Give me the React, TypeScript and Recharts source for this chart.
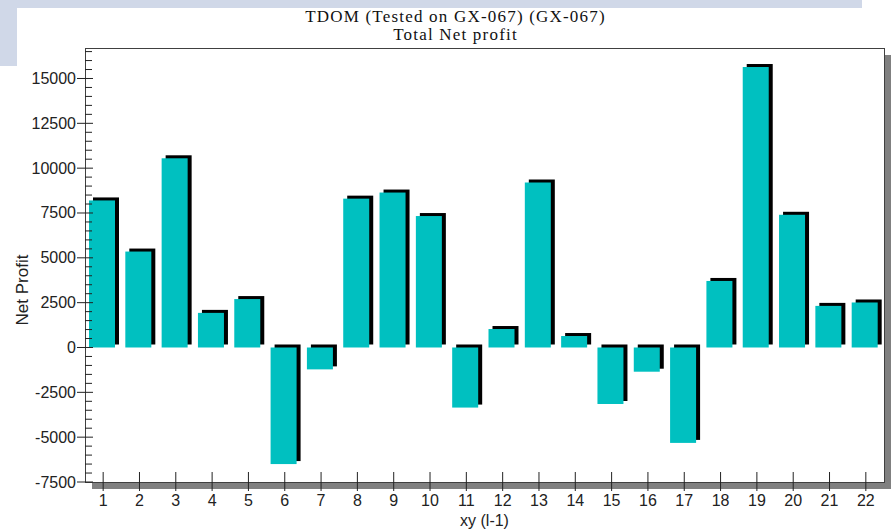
import React from "react";
import { BarChart, Bar, XAxis, YAxis } from "recharts";

const categories = ["1", "2", "3", "4", "5", "6", "7", "8", "9", "10", "11", "12", "13", "14", "15", "16", "17", "18", "19", "20", "21", "22"];
const netProfit = [8200, 5350, 10550, 1930, 2700, -6500, -1220, 8300, 8640, 7330, -3350, 1030, 9200, 640, -3150, -1350, -5320, 3710, 15640, 7400, 2320, 2510];
const majorTicks = [-7500, -5000, -2500, 0, 2500, 5000, 7500, 10000, 12500, 15000];
const minorStep = 500;

const data = categories.map((name, i) => ({ name, value: netProfit[i] }));

const yTicks: number[] = [];
for (let v = -7500; v <= 16500; v += minorStep) yTicks.push(v);

const W = 891;
const H = 530;
const PLOT = { left: 85, top: 48, right: 884, bottom: 482 };
const TEAL = "#00c0c0";
const INK = "#222";
const SANS = "'Liberation Sans', Arial, sans-serif";
const SERIF = "'Liberation Serif', 'Times New Roman', serif";

function ShadowBar(props: any) {
  const { x, y, width, height } = props;
  const top = Math.min(y, y + height);
  const h = Math.abs(height);
  return (
    <g>
      <rect x={x + 3} y={top - 3} width={width} height={h} fill="#000" />
      <rect x={x - 1} y={top} width={width} height={h} fill={TEAL} />
    </g>
  );
}

function YTick(props: any) {
  const { x, y, payload } = props;
  const major = majorTicks.includes(payload.value);
  return (
    <g>
      {major ? (
        <>
          <line x1={x - 8} x2={x + 8} y1={y} y2={y} stroke={INK} strokeWidth={1} />
          <text x={x - 9} y={y} dy={5.5} textAnchor="end" fontSize={16} fill={INK} fontFamily={SANS}>
            {payload.value}
          </text>
        </>
      ) : (
        <line x1={x} x2={x + 7} y1={y} y2={y} stroke={INK} strokeWidth={1} />
      )}
    </g>
  );
}

function XTick(props: any) {
  const { x, y, payload } = props;
  return (
    <g>
      <line x1={x} x2={x} y1={y - 10} y2={y + 9} stroke={INK} strokeWidth={1} />
      <text x={x} y={y + 24} textAnchor="middle" fontSize={16} fill={INK} fontFamily={SANS}>
        {payload.value}
      </text>
    </g>
  );
}

export default function App() {
  const pw = PLOT.right - PLOT.left;
  const ph = PLOT.bottom - PLOT.top;
  return (
    <div style={{ position: "absolute", left: 0, top: 0, width: W, height: H, background: "#fff", overflow: "hidden" }}>
      <div style={{ position: "absolute", left: 0, top: 0, width: 862, height: 8, background: "#d0d8e8" }} />
      <div style={{ position: "absolute", left: 0, top: 0, width: 17, height: 66, background: "#d0d8e8" }} />
      <div style={{ position: "absolute", left: PLOT.left + 7, top: PLOT.top + 7, width: pw, height: ph, background: "#808080" }} />
      <div
        style={{
          position: "absolute",
          left: PLOT.left,
          top: PLOT.top,
          width: pw + 1,
          height: ph + 1,
          background: "#fff",
          border: "1px solid #404040",
          boxSizing: "border-box",
        }}
      />
      <div
        style={{
          position: "absolute",
          left: 0,
          top: 8,
          width: 911,
          textAlign: "center",
          fontFamily: SERIF,
          fontSize: 17,
          letterSpacing: 1.2,
          lineHeight: "18px",
          color: "#111",
        }}
      >
        TDOM (Tested on GX-067) (GX-067)
        <br />
        Total Net profit
      </div>
      <div
        style={{
          position: "absolute",
          left: 22.5 - 60,
          top: 290 - 10,
          width: 120,
          height: 20,
          lineHeight: "20px",
          textAlign: "center",
          transform: "rotate(-90deg)",
          fontFamily: SANS,
          fontSize: 17,
          color: INK,
        }}
      >
        Net Profit
      </div>
      <div style={{ position: "absolute", left: 0, top: 0 }}>
        <BarChart
          width={W}
          height={H}
          data={data}
          margin={{ top: PLOT.top, right: W - PLOT.right, bottom: 0, left: 0 }}
          barSize={26}
        >
          <XAxis
            dataKey="name"
            height={H - PLOT.bottom}
            axisLine={false}
            tickLine={false}
            tickSize={0}
            tickMargin={0}
            interval={0}
            tick={<XTick />}
            label={{ value: "xy (l-1)", position: "insideBottom", offset: 4, fontSize: 16, fill: INK, fontFamily: SANS }}
          />
          <YAxis
            width={PLOT.left}
            domain={[-7500, 16700]}
            ticks={yTicks}
            interval={0}
            allowDataOverflow
            axisLine={false}
            tickLine={false}
            tickSize={0}
            tickMargin={0}
            tick={<YTick />}
          />
          <Bar dataKey="value" shape={<ShadowBar />} isAnimationActive={false} />
        </BarChart>
      </div>
    </div>
  );
}
